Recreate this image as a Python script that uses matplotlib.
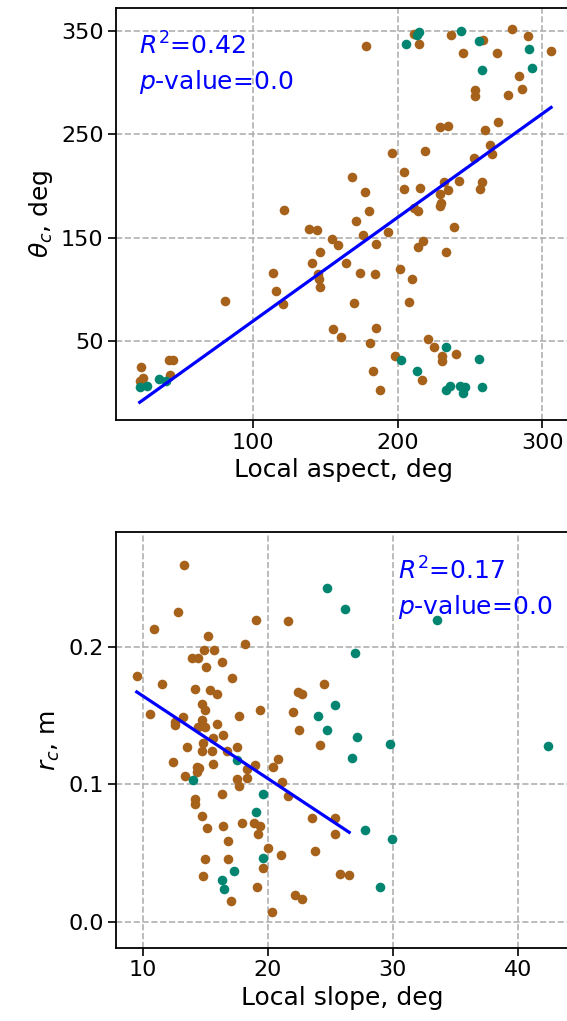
import numpy as np
import matplotlib
matplotlib.use("Agg")
import matplotlib.pyplot as plt

# Colours of the two point groups
ORANGE = "#a6611a"
TEAL = "#018571"

# ---- top panel: local aspect vs theta_c (deg) ----
aspect_orange = [178, 211, 215, 237, 245, 259, 268.5, 279, 290, 306, 284, 286, 253.5, 253.5, 276,
                 229, 235, 260, 269, 264, 265, 252.5, 219, 196, 204, 204, 215.5, 232, 235, 242,
                 258, 257, 229, 230, 229, 211, 214, 168, 177, 180, 121, 171, 138.4, 144, 176,
                 193.5, 238.7, 154.6, 158.5, 185, 214, 217.6, 233, 146, 140.8, 164.3, 114, 144.7,
                 145.4, 146, 173.6, 184, 201.6, 210, 116, 120.6, 80.5, 170, 208, 155, 161, 184.7,
                 181, 221, 225, 230.6, 230.6, 240, 198, 182.6, 216.5, 187.5, 22.7, 23.8, 21.5,
                 41.9, 44.7, 42.4]
theta_orange = [336, 347, 338, 346, 329, 341, 329, 352, 345, 331, 307, 294, 293, 287.5, 288,
                257, 258, 254, 262, 240, 231, 227, 234, 232, 214, 197, 198, 204, 196, 205,
                204, 197, 192, 184, 181, 179, 176, 209, 194, 175.5, 177, 166, 158.7, 157.8, 152.6,
                155.8, 160, 148.7, 143, 144, 141, 147, 136.7, 136.7, 125.4, 125.7, 116, 115.3,
                110, 102.4, 116, 115.3, 120, 110, 98, 86, 88.8, 86.6, 87.6, 62, 54, 62.3,
                47.8, 52, 44, 35.4, 30.6, 37.7, 35.4, 20.9, 12.8, 3, 24.8, 14.4, 11.2,
                31.3, 31.3, 17]
aspect_teal = [206, 215, 213, 244, 256.5, 291, 258, 293, 233, 256, 202, 213.2, 233, 236.3,
               243, 246.5, 245, 258, 21.5, 26.6, 35, 40]
theta_teal = [338, 349, 346, 350, 340, 333, 312, 314, 44.5, 33, 31.5, 20.9, 2.4, 6.3,
              7, 5.3, 0, 5.3, 5.6, 6.3, 13.4, 11]
fit_top = (1.003, -30.8)        # slope, intercept
stats_top = ("0.42", "0.0")     # R^2, p-value

# ---- bottom panel: local slope (deg) vs r_c (m) ----
slope_orange = [13.28, 12.8, 10.9, 19.04, 21.6, 15.2, 14.9, 15.7, 18.2, 13.9, 14.4, 15.04, 16.3,
                9.5, 11.5, 17.1, 14.2, 15.4, 15.9, 24.5, 22.4, 22.7, 14.7, 15.0, 10.6, 13.2,
                12.6, 14.7, 17.7, 19.4, 22.0, 22.5, 12.56, 14.4, 15.0, 15.9, 15.6, 16.4, 13.5,
                14.8, 14.7, 15.5, 16.7, 17.5, 12.4, 14.3, 14.5, 14.3, 15.6, 13.4, 19.0, 18.3,
                18.3, 17.5, 17.7, 20.4, 20.8, 21.1, 21.6, 24.2, 16.3, 14.2, 14.2, 14.7, 15.1,
                16.4, 17.9, 18.9, 19.4, 19.2, 23.5, 25.4, 25.4, 16.8, 20.0, 21.06, 23.8, 15.0,
                16.8, 19.6, 25.8, 26.5, 14.8, 19.1, 22.2, 22.7, 17.04, 20.3]
rc_orange = [0.260, 0.226, 0.2135, 0.220, 0.2194, 0.208, 0.1978, 0.1978, 0.202, 0.1918, 0.1922,
             0.1857, 0.1889, 0.179, 0.1729, 0.1775, 0.1695, 0.1687, 0.1658, 0.1735, 0.167,
             0.166, 0.1585, 0.154, 0.1515, 0.149, 0.1457, 0.147, 0.150, 0.154, 0.1525, 0.140,
             0.1433, 0.1415, 0.142, 0.1437, 0.134, 0.136, 0.1274, 0.130, 0.1245, 0.1245,
             0.1243, 0.1274, 0.1163, 0.1128, 0.1117, 0.109, 0.115, 0.1063, 0.114, 0.111,
             0.105, 0.1037, 0.099, 0.113, 0.1186, 0.1015, 0.0915, 0.1286, 0.0927, 0.089,
             0.0856, 0.0766, 0.068, 0.0695, 0.0717, 0.0722, 0.0693, 0.0638, 0.0753, 0.0753,
             0.0638, 0.0584, 0.0533, 0.0487, 0.0511, 0.0458, 0.0456, 0.039, 0.0349, 0.0342,
             0.033, 0.025, 0.0191, 0.0167, 0.0148, 0.0071]
slope_teal = [24.7, 26.2, 33.5, 27.0, 24.0, 25.4, 24.7, 17.5, 14.0, 27.1, 26.7, 29.76, 42.4,
              19.6, 19.04, 27.8, 29.9, 19.6, 17.3, 16.3, 16.5, 28.96]
rc_teal = [0.243, 0.228, 0.220, 0.1956, 0.1498, 0.158, 0.140, 0.1177, 0.103, 0.1348, 0.1193,
           0.1297, 0.128, 0.093, 0.080, 0.0669, 0.0601, 0.0463, 0.037, 0.030, 0.0237, 0.025]
fit_bottom = (-0.00602, 0.2246)
stats_bottom = ("0.17", "0.0")

plt.rcParams["font.family"] = ["DejaVu Sans"]
plt.rcParams["mathtext.fontset"] = "dejavusans"

fig = plt.figure(figsize=(5.67, 10.21), dpi=100)
ax1 = fig.add_axes([0.2046, 0.5886, 0.803, 0.4036])
ax2 = fig.add_axes([0.2046, 0.0715, 0.798, 0.407])


def draw_panel(ax, xo, yo, xt, yt, fit, stats, text_x):
    """Scatter both groups, add fit over the orange range and the stats text"""
    ax.grid(True, linestyle="--", linewidth=1.2, color="#b0b0b0")
    ax.scatter(xo, yo, s=48, color=ORANGE, linewidths=0, zorder=2)
    ax.scatter(xt, yt, s=48, color=TEAL, linewidths=0, zorder=2)
    xs = np.array([min(xo), max(xo)])
    ax.plot(xs, fit[0] * xs + fit[1], color="blue", linewidth=2.3, zorder=3)
    ax.text(text_x, 0.886, f"$R^2$={stats[0]}", transform=ax.transAxes,
            color="blue", fontsize=18, va="baseline")
    ax.text(text_x, 0.803, f"$p$-value={stats[1]}", transform=ax.transAxes,
            color="blue", fontsize=18, va="baseline")
    ax.tick_params(labelsize=16, length=5.5, width=1.2)
    for sp in ax.spines.values():
        sp.set_linewidth(1.3)


draw_panel(ax1, aspect_orange, theta_orange, aspect_teal, theta_teal, fit_top, stats_top, 0.051)
ax1.set_xlim(5.1, 320)
ax1.set_ylim(-26.4, 372.4)
ax1.set_xticks([100, 200, 300])
ax1.set_yticks([50, 150, 250, 350])
ax1.set_xlabel("Local aspect, deg", fontsize=18)
ax1.set_ylabel(r"$\theta_c$, deg", fontsize=18)

draw_panel(ax2, slope_orange, rc_orange, slope_teal, rc_teal, fit_bottom, stats_bottom, 0.623)
ax2.set_xlim(7.84, 44.05)
ax2.set_ylim(-0.0193, 0.2837)
ax2.set_xticks([10, 20, 30, 40])
ax2.set_yticks([0.0, 0.1, 0.2])
ax2.set_yticklabels(["0.0", "0.1", "0.2"])
ax2.set_xlabel("Local slope, deg", fontsize=18)
ax2.set_ylabel(r"$r_c$, m", fontsize=18)

fig.savefig("out.png", dpi=100)
